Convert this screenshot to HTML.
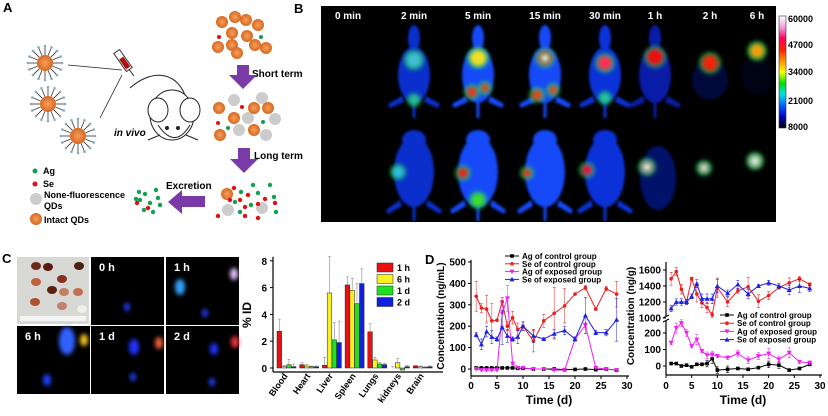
<!DOCTYPE html>
<html><head><meta charset="utf-8"><style>
html,body{margin:0;padding:0;background:#fff}
svg{display:block;font-family:"Liberation Sans",Arial,sans-serif}
</style></head><body>
<svg id="fig" width="828" height="416" viewBox="0 0 828 416" xmlns="http://www.w3.org/2000/svg">
<defs>
<filter id="b2" x="-50%" y="-50%" width="200%" height="200%"><feGaussianBlur stdDeviation="2"/></filter>
<filter id="b1" x="-50%" y="-50%" width="200%" height="200%"><feGaussianBlur stdDeviation="1.2"/></filter>
<filter id="b4" x="-50%" y="-50%" width="200%" height="200%"><feGaussianBlur stdDeviation="3"/></filter>
<linearGradient id="cbar" x1="0" y1="0" x2="0" y2="1">
<stop offset="0" stop-color="#fff"/><stop offset="0.1" stop-color="#f0a0e0"/><stop offset="0.2" stop-color="#ff0060"/><stop offset="0.3" stop-color="#ff2000"/><stop offset="0.4" stop-color="#ff9000"/><stop offset="0.5" stop-color="#ffff00"/><stop offset="0.6" stop-color="#00e000"/><stop offset="0.7" stop-color="#00e0e0"/><stop offset="0.8" stop-color="#0060ff"/><stop offset="0.9" stop-color="#0000c0"/><stop offset="1" stop-color="#000"/>
</linearGradient>
<radialGradient id="qd"><stop offset="0" stop-color="#f5a060"/><stop offset="1" stop-color="#d86820"/></radialGradient>
</defs>

<g font-weight="bold" font-size="13">
<text x="3" y="12">A</text>
<text x="294" y="13">B</text>
<text x="2" y="263">C</text>
<text x="425" y="264">D</text>
</g>

<g id="panelA">
<line x1="68" y1="65" x2="122" y2="70" stroke="#222" stroke-width="0.8"/>
<line x1="100" y1="118" x2="122" y2="75" stroke="#222" stroke-width="0.8"/>
<g transform="rotate(55 122 60)">
<rect x="112" y="56" width="22" height="7" fill="#fff" stroke="#333"/>
<rect x="120" y="57" width="12" height="5" fill="#b01010"/>
<line x1="134" y1="59.5" x2="142" y2="59.5" stroke="#333"/>
</g>
<g fill="#fff" stroke="#222" stroke-width="1">
<path d="M130 88 C150 70,175 70,185 95" fill="none"/>
<ellipse cx="172" cy="115" rx="22" ry="25"/>
<ellipse cx="158" cy="110" rx="10" ry="12"/>
<ellipse cx="190" cy="110" rx="10" ry="12"/>
<path d="M158 125 Q175 150 190 125"/>
<circle cx="167" cy="128" r="1.5" fill="#222"/><circle cx="178" cy="128" r="1.5" fill="#222"/>
<line x1="160" y1="135" x2="148" y2="140"/><line x1="186" y1="135" x2="198" y2="140"/>
</g>
<text x="114" y="136" font-size="10" font-style="italic" font-weight="bold">in vivo</text>
<g font-weight="bold" font-size="10">
<text x="252" y="77">Short term</text>
<text x="254" y="159">Long term</text>
<text x="166" y="189">Excretion</text>
</g>
<g fill="#7a3aa8">
<path d="M237 65h12v10h8l-14 14l-14-14h8z"/>
<path d="M238 148h12v11h8l-14 14l-14-14h8z"/>
<path d="M205 196v11h-23v7l-14-12l14-12v6z"/>
</g>
<g font-size="9" font-weight="bold">
<circle cx="35" cy="171" r="2.5" fill="#10a050"/><text x="43" y="174">Ag</text>
<circle cx="35" cy="184" r="2.5" fill="#e01010"/><text x="43" y="187">Se</text>
<circle cx="36" cy="199" r="6" fill="#ccc"/><text x="44" y="198">None-fluorescence</text><text x="44" y="209">QDs</text>
<circle cx="36" cy="219" r="6" fill="url(#qd)"/><text x="44" y="223">Intact QDs</text>
</g>
<g id="dotsA"></g>
</g>

<g>
<rect x="321" y="6" width="455" height="216" fill="#000"/>
<g id="mice"></g>
<g fill="#fff" font-weight="bold" font-size="10" text-anchor="middle" id="btimes"></g>
<rect x="779" y="16" width="7" height="112" fill="url(#cbar)" stroke="#333" stroke-width="0.6"/>
<g font-size="9" font-weight="bold">
<text x="788" y="22">60000</text><text x="788" y="48">47000</text><text x="788" y="75">34000</text><text x="788" y="104">21000</text><text x="788" y="130">8000</text>
</g>
</g>

<g id="cimgs"></g>
<g id="bar"></g>
<g id="lineL"></g>
<g id="lineR"></g>
</svg>
<script>
const NS="http://www.w3.org/2000/svg";
function mk(p,t,a,txt){const e=document.createElementNS(NS,t);for(const k in a)e.setAttribute(k,a[k]);if(txt!==undefined)e.textContent=txt;p.appendChild(e);return e;}

(function(){
 const g=document.getElementById('dotsA');
 const qds=[[45,63],[48,104],[78,136]];
 qds.forEach(([x,y])=>{for(let i=0;i<16;i++){const a=i*Math.PI/8;mk(g,'line',{x1:x+8*Math.cos(a),y1:y+8*Math.sin(a),x2:x+16*Math.cos(a),y2:y+16*Math.sin(a),stroke:'#333','stroke-width':0.8});mk(g,'circle',{cx:x+17*Math.cos(a),cy:y+17*Math.sin(a),r:1.3,fill:'#8ab'});}
  mk(g,'circle',{cx:x,cy:y,r:8,fill:'url(#qd)'});});
 const top=[[222,22],[235,17],[246,20],[258,25],[232,33],[247,36],[218,47],[232,45],[237,53],[255,45],[266,48]];
 top.forEach(([x,y])=>mk(g,'circle',{cx:x,cy:y,r:6,fill:'url(#qd)'}));
 mk(g,'circle',{cx:219,cy:37,r:2,fill:'#e01010'});mk(g,'circle',{cx:261,cy:37,r:2,fill:'#10a050'});
 const grey=[[234,100],[262,98],[248,118],[275,119],[239,130],[266,135]];
 grey.forEach(([x,y])=>mk(g,'circle',{cx:x,cy:y,r:6,fill:'#ccc'}));
 [[219,108],[234,118],[254,108],[268,108],[220,135],[254,130]].forEach(([x,y])=>mk(g,'circle',{cx:x,cy:y,r:6,fill:'url(#qd)'}));
 mk(g,'circle',{cx:242,cy:107,r:2,fill:'#e01010'});mk(g,'circle',{cx:218,cy:123,r:2,fill:'#e01010'});mk(g,'circle',{cx:263,cy:122,r:2,fill:'#10a050'});mk(g,'circle',{cx:228,cy:128,r:2,fill:'#10a050'});
 [[228,210],[262,208]].forEach(([x,y])=>mk(g,'circle',{cx:x,cy:y,r:6,fill:'#ccc'}));
 mk(g,'circle',{cx:227,cy:194,r:6,fill:'url(#qd)'});
 const gr=[[253,185],[270,185],[241,192],[258,193],[274,197],[235,202],[251,205],[240,212],[276,212]];
 const rd=[[234,188],[248,195],[265,199],[240,200],[275,203],[245,207],[258,204],[218,216],[245,216],[258,218],[230,200]];
 gr.forEach(([x,y])=>mk(g,'circle',{cx:x,cy:y,r:2.2,fill:'#10a050'}));rd.forEach(([x,y])=>mk(g,'circle',{cx:x,cy:y,r:2.2,fill:'#e01010'}));
 const eg=[[139,192],[145,194],[156,190],[140,200],[150,203],[158,198],[144,210],[153,212],[160,205],[136,199]];
 eg.forEach(([x,y])=>mk(g,'circle',{cx:x,cy:y,r:2.2,fill:'#10a050'}));
 [[137,203],[148,208]].forEach(([x,y])=>mk(g,'circle',{cx:x,cy:y,r:2.2,fill:'#e01010'}));
})();

(function(){
 const g=document.getElementById('mice'),t=document.getElementById('btimes');
 const labels=['0 min','2 min','5 min','15 min','30 min','1 h','2 h','6 h'];
 const cx=[348,414,478,545,605,655,710,757];
 labels.forEach((l,i)=>{mk(t,'text',{x:cx[i],y:19},l);});
 const bright=[0,0.85,1,1,0.9,0.75,0.5,0.3];
 const bodyTop=['','#1038f0','#1848f8','#1848f8','#1038f0','#0828e0','#0620c0','#0418a0'];
 cx.forEach((x,i)=>{
  if(i===0)return;
  const o=bright[i],c=bodyTop[i];
  const s=mk(g,'g',{opacity:o,filter:'url(#b1)'});
  if(i<6){
   mk(s,'ellipse',{cx:x,cy:75,rx:16,ry:28,fill:c});
   mk(s,'ellipse',{cx:x,cy:38,rx:6,ry:13,fill:c});
   mk(s,'path',{d:`M${x-26} ${104}L${x-12} ${96}L${x-10} ${102}L${x-24} ${108}Z M${x+26} ${104}L${x+12} ${96}L${x+10} ${102}L${x+24} ${108}Z`,fill:c});
   mk(s,'rect',{x:x-1.5,y:100,width:3,height:18,fill:c});
  } else if(i===6){
   mk(s,'ellipse',{cx:x,cy:80,rx:18,ry:20,fill:c,opacity:0.6});
  } else {
   mk(s,'ellipse',{cx:x,cy:75,rx:16,ry:20,fill:c,opacity:0.4});
  }
  if(i<5){
   const b=mk(g,'g',{opacity:o,filter:'url(#b1)'});
   mk(b,'ellipse',{cx:x,cy:172,rx:20,ry:35,fill:c});
   mk(b,'ellipse',{cx:x,cy:140,rx:12,ry:10,fill:c});
   mk(b,'path',{d:`M${x-28} ${210}L${x-14} ${200}L${x-12} ${206}L${x-26} ${214}Z M${x+28} ${210}L${x+14} ${200}L${x+12} ${206}L${x+26} ${214}Z`,fill:c});
   mk(b,'rect',{x:x-1.5,y:205,width:3,height:16,fill:c});
  } else if(i===5){
   const b=mk(g,'g',{opacity:0.55,filter:'url(#b1)'});
   mk(b,'ellipse',{cx:x+3,cy:178,rx:18,ry:32,fill:'#0620c0'});
  }
 });
 const spots=[[414,60,7,'#40c0d0'],[414,100,4,'#30c0a0'],[478,58,8,'#f0e020'],[472,92,5,'#f03010'],[485,88,4,'#f04010'],[545,58,7,'#ff2040'],[545,58,3,'#fff'],[537,95,5,'#f04010'],[553,90,4,'#f04010'],[605,63,7,'#ff3050'],[605,98,4,'#20d0a0'],[655,57,8,'#f01010'],[710,63,8,'#f02010'],[757,51,7,'#f0a010'],
  [398,172,5,'#30c0f0'],[463,173,5,'#f02010'],[478,200,6,'#40e020'],[527,173,4,'#f03010'],[587,170,5,'#f01040'],[647,167,6,'#ff30a0'],[647,167,3,'#fff'],[704,168,5,'#ff40a0'],[704,168,2.5,'#fff'],[755,161,6,'#ff80c0'],[755,161,3,'#fff']];
 spots.forEach(([x,y,r,c])=>{mk(g,'circle',{cx:x,cy:y,r:r+3,fill:'#20e060',opacity:0.6,filter:'url(#b2)'});mk(g,'circle',{cx:x,cy:y,r:r,fill:c,filter:'url(#b2)'});});
})();

(function(){
 const g=document.getElementById('cimgs');
 mk(g,'rect',{x:17,y:257,width:72,height:67,fill:'#d8d8d4'});
 [[36,266,'#6b2a20'],[48,267,'#5a1a10'],[62,279,'#8a3020'],[79,266,'#4a2010'],[36,282,'#c06040'],[52,290,'#5a2010'],[64,292,'#c08060'],[78,292,'#c07050'],[35,302,'#b05030'],[62,306,'#c08070'],[82,309,'#f0f0e8']].forEach(([x,y,c])=>mk(g,'ellipse',{cx:x,cy:y,rx:5,ry:4,fill:c}));
 mk(g,'rect',{x:20,y:316,width:66,height:5,fill:'#f4f4f4'});
 const cells=[[91,257,'0 h'],[166,257,'1 h'],[17,326,'6 h'],[91,326,'1 d'],[166,326,'2 d']];
 cells.forEach(([x,y,l])=>{mk(g,'rect',{x:x,y:y,width:73,height:68,fill:'#000'});mk(g,'text',{x:x+8,y:y+14,fill:'#fff','font-weight':'bold','font-size':11},l);});
 [[127,307,'#2040ff',2],[180,287,'#30a0ff',4],[205,313,'#2040ff',2],[234,274,'#e0c0ff',3],[67,341,'#3060ff',7],[84,340,'#f0c020',3],[47,380,'#2040ff',3],[134,347,'#2030ff',4],[159,343,'#f06040',3],[133,377,'#2040ff',2],[214,349,'#2030ff',3],[235,342,'#f03040',3],[212,382,'#2040ff',2]].forEach(([x,y,c,r])=>mk(g,'ellipse',{cx:x,cy:y,rx:r+1,ry:r*2,fill:c,filter:'url(#b2)'}));
})();

const barCats=['Blood','Heart','Liver','Spleen','Lungs','kidneys','Brain'];
const barSeries=['1 h','6 h','1 d','2 d'];
const bar1h=[2.75,0.25,0.2,6.2,2.7,0.0,0.15];
const bar6h=[0.1,0.15,5.6,5.8,0.6,0.4,0.1];
const bar1d=[0.25,0.1,2.1,4.8,0.3,-0.15,0.05];
const bar2d=[0.1,0.1,1.9,6.3,0.25,0.1,0.1];
const err1h=[0.9,0.15,0.6,0.6,0.6,0.1,0.05];
const err6h=[0.1,0.1,2.7,0.9,0.2,0.3,0.05];
const err1d=[0.4,0.05,1.3,1.5,0.1,0.1,0.05];
const err2d=[0.2,0.05,1.6,1.1,0.1,0.1,0.05];
const barTicks=[0,2,4,6,8];

const days=[1,2,3,4,5,6,7,8,9,10,12,14,16,18,20,22,24,26,28];
const bAgCtl=[5,5,5,5,5,5,5,5,3,3,0,0,0,-3,-2,0,-3,0,-5];
const bSeCtl=[340,285,280,225,228,315,200,240,185,200,130,225,260,295,350,380,280,375,350];
const bAgExp=[0,-5,-5,-5,-5,260,330,25,5,5,0,0,-5,-5,140,205,5,0,-5];
const bSeExp=[160,115,175,150,140,195,155,140,150,200,155,140,165,180,140,250,170,170,230];
const bSeCtlErr=[70,20,65,80,0,20,20,30,30,20,50,30,120,80,5,10,5,10,60];
const bSeExpErr=[10,25,25,30,10,80,30,10,30,20,30,5,20,20,10,85,10,15,100];
const bAgExpErr=[0,0,0,0,0,60,60,5,0,0,0,0,0,0,10,10,0,0,0];
const lTicksY=[0,100,200,300,400,500];
const lTicksX=[0,5,10,15,20,25,30];

const tAgCtl=[15,15,0,5,-5,10,10,15,45,-25,-20,-15,-20,-10,10,5,-25,-15,10];
const tSeCtl=[1490,1580,1360,1200,1490,1300,1190,1130,1040,1380,1200,1340,1390,1210,1280,1380,1440,1490,1420];
const tAgExp=[140,230,260,200,120,160,90,65,70,60,50,75,35,60,75,40,80,25,20];
const tSeExp=[1120,1200,1200,1200,1270,1430,1240,1240,1240,1400,1310,1420,1300,1400,1440,1400,1350,1400,1370];
const tSeCtlErr=[80,50,60,30,20,100,60,60,30,120,60,30,120,80,50,20,60,30,20];
const tSeExpErr=[40,40,40,30,30,50,60,60,60,80,40,50,60,20,30,30,60,80,40];
const tAgExpErr=[10,30,20,20,10,30,10,20,20,10,10,20,20,20,30,20,30,10,10];
const tAgCtlErr=[0,0,0,0,0,0,0,20,30,20,20,0,0,0,20,20,0,0,0];
const rTicksLow=[0,100,200];
const rTicksHigh=[1000,1200,1400,1600];

(function(){
 const g=document.getElementById('bar');
 const x0=273,x1=443,yBase=368,ppu=13.4;
 const y=v=>yBase-v*ppu;
 const gx=i=>277+i*22.7;
 const cols=['#e81010','#f8f020','#20e020','#1020e0'];
 const vals=[bar1h,bar6h,bar1d,bar2d],errs=[err1h,err6h,err1d,err2d];
 barCats.forEach((c,i)=>{
  vals.forEach((arr,s)=>{
   const v=arr[i],bx=gx(i)+s*4.8;
   const r=mk(g,'rect',{x:bx,y:Math.min(y(v),y(0)),width:4.6,height:Math.abs(y(v)-y(0)),fill:cols[s],stroke:'#222','stroke-width':0.5});
   
   
   const ex=bx+2.3,top=y(v+errs[s][i]);
   mk(g,'line',{x1:ex,y1:y(v),x2:ex,y2:top,stroke:'#888','stroke-width':0.6});
   mk(g,'line',{x1:ex-1.5,y1:top,x2:ex+1.5,y2:top,stroke:'#888','stroke-width':0.6});
  });
  const lx=gx(i)+11;
  const t=mk(g,'text',{x:lx,y:376,'font-size':9,'font-weight':'bold','text-anchor':'end',transform:`rotate(-55 ${lx} 376)`},c);
  
  
 });
 mk(g,'line',{x1:x0,y1:y(8.3),x2:x0,y2:372,stroke:'#000','stroke-width':1.2});
 mk(g,'line',{x1:x0,y1:372,x2:x1,y2:372,stroke:'#000','stroke-width':1.2});
 barTicks.forEach(v=>{mk(g,'line',{x1:x0-3,y1:y(v),x2:x0,y2:y(v),stroke:'#000'});mk(g,'text',{x:x0-6,y:y(v)+4,'font-size':10,'font-weight':'bold','text-anchor':'end'},v);});
 const yt=mk(g,'text',{x:251,y:315,'font-size':12,'font-weight':'bold','text-anchor':'middle',transform:'rotate(-90 251 315)'},'% ID');
 
 
 barSeries.forEach((s,k)=>{
  const ly=263+k*11.5;
  mk(g,'rect',{x:377,y:ly,width:16,height:9,fill:cols[k],stroke:'#222','stroke-width':0.5});
  const t=mk(g,'text',{x:397,y:ly+8,'font-size':9,'font-weight':'bold'},s);
  
  
 });
})();

const SCOL={agc:'#000',sec:'#e82020',age:'#f020f0',see:'#2020e0'};
function marker(g,sh,x,y,c){
 if(sh==='sq')mk(g,'rect',{x:x-1.8,y:y-1.8,width:3.6,height:3.6,fill:c});
 else if(sh==='up')mk(g,'path',{d:`M${x} ${y-2.5}L${x+2.5} ${y+2}L${x-2.5} ${y+2}Z`,fill:c});
 else if(sh==='dn')mk(g,'path',{d:`M${x} ${y+2.5}L${x+2.5} ${y-2}L${x-2.5} ${y-2}Z`,fill:c});
 else mk(g,'circle',{cx:x,cy:y,r:1.8,fill:c});
}
function series(g,name,xs,ys,errs,X,Y,c,sh){
 const s=mk(g,'g',{});
 
 
 if(errs)xs.forEach((d,i)=>{const e=errs[i];if(!e)return;const px=X(d);
  mk(s,'line',{x1:px,y1:Y(ys[i]-e),x2:px,y2:Y(ys[i]+e),stroke:c,'stroke-width':0.6,opacity:0.8});
  mk(s,'line',{x1:px-1.5,y1:Y(ys[i]+e),x2:px+1.5,y2:Y(ys[i]+e),stroke:c,'stroke-width':0.6});
  mk(s,'line',{x1:px-1.5,y1:Y(ys[i]-e),x2:px+1.5,y2:Y(ys[i]-e),stroke:c,'stroke-width':0.6});});
 mk(s,'polyline',{points:xs.map((d,i)=>X(d)+','+Y(ys[i])).join(' '),fill:'none',stroke:c,'stroke-width':1});
 xs.forEach((d,i)=>marker(s,sh,X(d),Y(ys[i]),c));
}
function legend(g,x,y0,dy){
 const L=[['Ag of control group',SCOL.agc,'sq'],['Se of control group',SCOL.sec,'ci'],['Ag of exposed group',SCOL.age,'dn'],['Se of exposed group',SCOL.see,'up']];
 L.forEach(([t,c,sh],k)=>{const y=y0+k*dy;mk(g,'line',{x1:x,y1:y,x2:x+14,y2:y,stroke:c});marker(g,sh,x+7,y,c);
  const e=mk(g,'text',{x:x+17,y:y+3,'font-size':8,'font-weight':'bold'},t);
  
  });
}

(function(){
 const g=document.getElementById('lineL');
 const X=d=>471+d*(627-471)/30, Y=v=>369-v*(369-262)/500;
 series(g,'ag-control-series',days,bAgCtl,null,X,Y,SCOL.agc,'sq');
 series(g,'se-control-series',days,bSeCtl,bSeCtlErr,X,Y,SCOL.sec,'ci');
 series(g,'ag-exposed-series',days,bAgExp,bAgExpErr,X,Y,SCOL.age,'dn');
 series(g,'se-exposed-series',days,bSeExp,bSeExpErr,X,Y,SCOL.see,'up');
 mk(g,'line',{x1:471,y1:260,x2:471,y2:376,stroke:'#000','stroke-width':1.2});
 mk(g,'line',{x1:471,y1:376,x2:629,y2:376,stroke:'#000','stroke-width':1.2});
 lTicksY.forEach(v=>{mk(g,'line',{x1:468,y1:Y(v),x2:471,y2:Y(v),stroke:'#000'});mk(g,'text',{x:466,y:Y(v)+3.5,'font-size':10,'font-weight':'bold','text-anchor':'end'},v);});
 lTicksX.forEach(v=>{mk(g,'line',{x1:X(v),y1:376,x2:X(v),y2:379,stroke:'#000'});mk(g,'text',{x:X(v),y:389,'font-size':10,'font-weight':'bold','text-anchor':'middle'},v);});
 const xt=mk(g,'text',{x:549,y:404,'font-size':12,'font-weight':'bold','text-anchor':'middle'},'Time (d)');
 
 
 const yt=mk(g,'text',{x:444,y:316,'font-size':10,'font-weight':'bold','text-anchor':'middle',transform:'rotate(-90 444 316)'},'Concentration (ng/mL)');
 
 
 legend(g,505,256,7.8);
})();

(function(){
 const g=document.getElementById('lineR');
 const X=d=>666+d*(820-666)/30;
 const Y=v=>v>=900? 318-(v-1000)*(318-270)/600 : 366-v*(366-333)/200;
 series(g,'ag-control-series',days,tAgCtl,tAgCtlErr,X,Y,SCOL.agc,'sq');
 series(g,'se-control-series',days,tSeCtl,tSeCtlErr,X,Y,SCOL.sec,'ci');
 series(g,'ag-exposed-series',days,tAgExp,tAgExpErr,X,Y,SCOL.age,'dn');
 series(g,'se-exposed-series',days,tSeExp,tSeExpErr,X,Y,SCOL.see,'up');
 mk(g,'line',{x1:666,y1:262,x2:666,y2:316,stroke:'#000','stroke-width':1.2});
 mk(g,'line',{x1:666,y1:321,x2:666,y2:375,stroke:'#000','stroke-width':1.2});
 mk(g,'line',{x1:663,y1:318,x2:669,y2:315,stroke:'#000'});mk(g,'line',{x1:663,y1:322,x2:669,y2:319,stroke:'#000'});
 mk(g,'line',{x1:666,y1:375,x2:822,y2:375,stroke:'#000','stroke-width':1.2});
 rTicksHigh.forEach(v=>{mk(g,'line',{x1:663,y1:Y(v),x2:666,y2:Y(v),stroke:'#000'});mk(g,'text',{x:661,y:Y(v)+3.5,'font-size':10,'font-weight':'bold','text-anchor':'end'},v);});
 rTicksLow.forEach(v=>{mk(g,'line',{x1:663,y1:Y(v),x2:666,y2:Y(v),stroke:'#000'});mk(g,'text',{x:661,y:Y(v)+3.5,'font-size':10,'font-weight':'bold','text-anchor':'end'},v);});
 lTicksX.forEach(v=>{mk(g,'line',{x1:X(v),y1:375,x2:X(v),y2:378,stroke:'#000'});mk(g,'text',{x:X(v),y:389,'font-size':10,'font-weight':'bold','text-anchor':'middle'},v);});
 const xt=mk(g,'text',{x:743,y:404,'font-size':12,'font-weight':'bold','text-anchor':'middle'},'Time (d)');
 
 
 const yt=mk(g,'text',{x:634,y:316,'font-size':10,'font-weight':'bold','text-anchor':'middle',transform:'rotate(-90 634 316)'},'Concentration (ng/g)');
 
 
 legend(g,720,315,8.2);
})();
</script>
</body></html>
